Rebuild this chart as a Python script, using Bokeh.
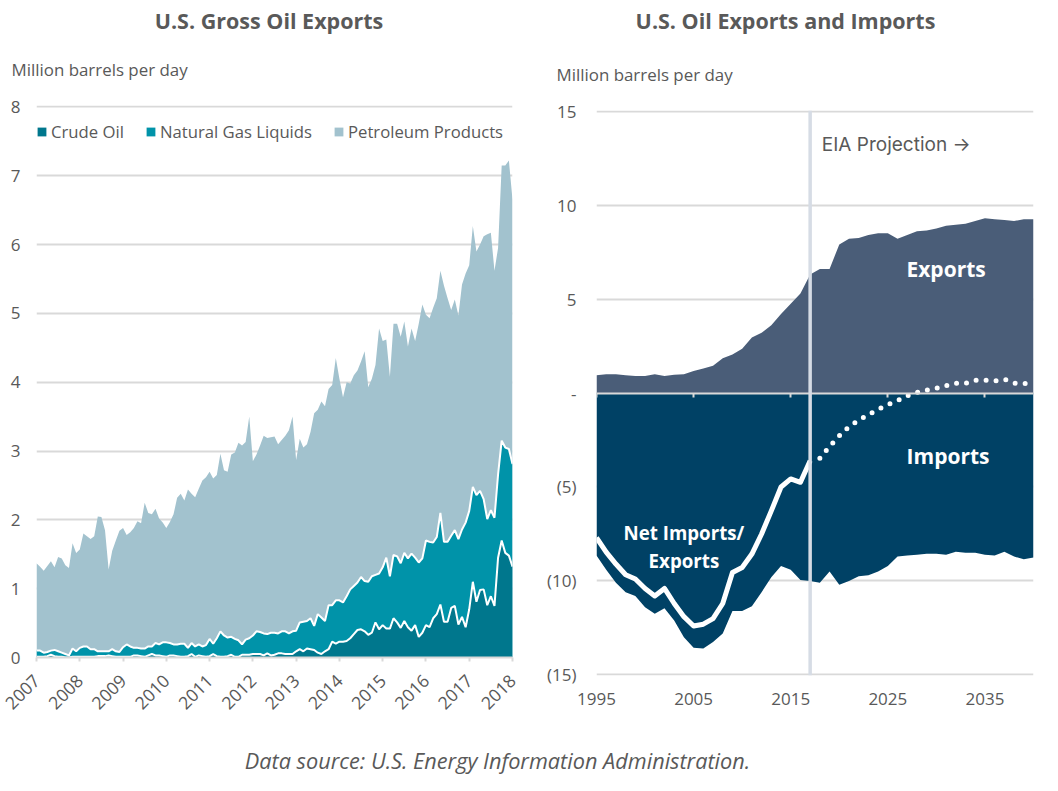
from math import pi
from bokeh.embed import file_html
from bokeh.resources import INLINE
from bokeh.plotting import figure
from bokeh.layouts import column, row
from bokeh.models import ColumnDataSource, FixedTicker, Label, Legend, LegendItem, LinearAxis, Span
from bokeh.core.validation import silence
from bokeh.core.validation.warnings import MISSING_RENDERERS
silence(MISSING_RENDERERS, True)

# ---- left chart: monthly cumulative levels, Jan 2007 .. Jan 2018
start_year = 2007
total_top = [
 1.37,1.32,1.26,1.33,1.40,1.31,1.46,1.44,1.34,1.30,1.66,1.52,
 1.57,1.80,1.76,1.72,1.76,2.05,2.04,1.85,1.28,1.55,1.70,1.84,
 1.88,1.78,1.82,1.88,1.98,1.95,2.25,2.10,2.08,2.16,2.02,1.96,
 1.88,1.97,2.08,2.32,2.38,2.28,2.44,2.38,2.33,2.45,2.57,2.62,
 2.70,2.60,2.65,2.96,2.72,2.70,2.95,2.98,3.12,3.08,3.13,3.50,
 2.85,2.95,3.08,3.22,3.19,3.20,3.21,3.10,3.16,3.22,3.30,3.50,
 2.87,3.18,3.05,3.10,3.28,3.55,3.60,3.72,3.65,3.90,3.96,4.35,
 4.05,3.78,4.00,3.98,4.10,4.17,4.30,4.45,3.93,4.05,4.25,4.78,
 4.60,4.62,4.08,4.85,4.85,4.66,4.88,4.52,4.78,4.60,4.85,5.13,
 4.98,4.93,5.08,5.22,5.62,5.40,5.22,5.05,5.20,4.97,5.42,5.58,
 5.70,6.27,5.90,6.00,6.12,6.15,6.17,5.62,5.95,7.15,7.15,7.22,
 6.65]
ngl_top = [
 .10,.10,.07,.08,.10,.11,.09,.07,.05,.03,.13,.09,
 .14,.16,.16,.12,.12,.09,.09,.09,.09,.12,.09,.08,
 .15,.19,.16,.14,.14,.13,.13,.16,.16,.21,.19,.22,
 .22,.21,.19,.19,.20,.20,.14,.21,.16,.19,.16,.18,
 .27,.20,.28,.38,.32,.29,.30,.27,.25,.19,.26,.28,
 .32,.38,.37,.35,.34,.36,.36,.35,.38,.38,.35,.38,
 .39,.51,.52,.53,.57,.46,.63,.58,.53,.76,.76,.83,
 .83,.80,.89,.99,1.04,1.09,1.17,1.11,1.10,1.18,1.20,1.22,
 1.31,1.45,1.18,1.49,1.47,1.37,1.52,1.44,1.51,1.45,1.38,1.44,
 1.70,1.68,1.67,1.75,2.10,1.68,1.68,1.77,1.85,1.72,1.86,1.96,
 2.13,2.48,2.36,2.42,2.30,2.01,2.14,2.03,2.66,3.15,3.05,3.03,
 2.81]
crude_top = [
 .01,.01,.01,.02,.04,.02,.01,.01,.00,.00,.01,.01,
 .01,.01,.01,.01,.01,.02,.02,.02,.03,.02,.01,.01,
 .01,.01,.01,.03,.03,.02,.01,.03,.05,.03,.03,.02,
 .01,.03,.03,.02,.01,.01,.02,.05,.01,.03,.02,.01,
 .02,.05,.02,.01,.01,.02,.04,.01,.01,.04,.04,.04,
 .05,.05,.05,.03,.06,.03,.04,.06,.06,.05,.05,.05,
 .09,.12,.09,.13,.12,.11,.07,.05,.09,.12,.23,.20,
 .23,.23,.24,.28,.34,.40,.41,.38,.33,.36,.51,.41,
 .47,.42,.42,.57,.51,.43,.53,.44,.39,.47,.30,.36,
 .47,.44,.57,.63,.77,.52,.52,.72,.75,.48,.59,.44,
 .70,1.10,.81,.98,.99,.76,.89,.75,1.45,1.70,1.52,1.48,
 1.32]
assert len(total_top) == len(ngl_top) == len(crude_top) == 133
months = [start_year + i / 12 for i in range(len(total_top))]
zeros_left = [0] * len(months)
left_year_ticks = list(range(2007, 2019))
left_value_ticks = list(range(0, 9))

# ---- right chart: annual, 1995 .. 2040
years = list(range(1995, 2041))
exports = [.95,1.0,1.0,.95,.9,.9,1.0,.9,.97,1.0,1.17,1.3,1.45,1.85,2.05,2.35,2.95,3.2,3.6,4.2,4.75,5.3,6.3,
           6.6,6.6,7.9,8.2,8.25,8.4,8.5,8.5,8.2,8.4,8.6,8.65,8.75,8.9,8.95,9.0,9.15,9.3,9.25,9.2,9.15,9.25,9.25]
imports = [-8.65,-9.4,-10.1,-10.6,-10.8,-11.4,-11.75,-11.45,-12.1,-13.0,-13.55,-13.6,-13.25,-12.8,-11.6,-11.6,-11.35,-10.6,-9.8,-9.2,-9.4,-9.95,-10.0,
           -10.1,-9.5,-10.2,-10.0,-9.75,-9.7,-9.5,-9.2,-8.7,-8.65,-8.6,-8.55,-8.55,-8.6,-8.45,-8.5,-8.5,-8.6,-8.65,-8.45,-8.7,-8.85,-8.75]
net_hist_years = list(range(1995, 2018))
net_hist = [-7.7,-8.47,-9.1,-9.67,-9.9,-10.4,-10.8,-10.4,-11.2,-11.9,-12.4,-12.3,-12.0,-11.2,-9.55,-9.28,-8.57,-7.5,-6.27,-5.0,-4.57,-4.75,-3.6]
net_proj_years = list(range(2018, 2041))
net_proj = [-3.47,-2.85,-2.28,-1.8,-1.45,-1.15,-.87,-.62,-.4,-.15,.03,.16,.25,.39,.52,.52,.68,.68,.64,.73,.52,.52,.45]
zeros_right = [0] * len(years)
projection_start = 2017
right_year_ticks = [1995, 2005, 2015, 2025, 2035]
right_value_ticks = [-15, -10, -5, 0, 5, 10, 15]
right_value_labels = {-15: "(15)", -10: "(10)", -5: "(5)", 0: "-", 5: "5", 10: "10", 15: "15"}

FONT = "Open Sans"
GRAY = "#595959"
GRID = "#d9d9d9"
C_TOTAL, C_NGL, C_CRUDE = "#a2c2ce", "#0093a9", "#00778d"
C_EXP, C_IMP = "#4a5d78", "#004165"

def base_style(p):
    p.outline_line_color = None
    p.background_fill_color = "white"
    p.border_fill_color = "white"
    p.xgrid.visible = False
    p.ygrid.grid_line_color = GRID
    p.ygrid.grid_line_width = 2
    for ax in p.axis:
        ax.major_label_text_font = FONT
        ax.major_label_text_font_size = "17px"
        ax.major_label_text_color = GRAY
        ax.minor_tick_line_color = None

def add_text(p, text, x, y, size, color=GRAY, bold=False, italic=False, align="center", font=FONT):
    style = "bold" if bold else ("italic" if italic else "normal")
    p.add_layout(Label(x=x, y=y, text=text, text_font=font, text_font_size=size, text_color=color,
                       text_font_style=style, text_align=align, text_baseline="middle"))

def text_band(width, height):
    p = figure(width=width, height=height, x_range=(0, width), y_range=(height, 0),
               output_backend="svg", toolbar_location=None,
               min_border_left=0, min_border_right=0, min_border_top=0, min_border_bottom=0)
    p.axis.visible = False
    p.grid.visible = False
    p.outline_line_color = None
    return p

# ---- header
p0 = text_band(1050, 90)
add_text(p0, "U.S. Gross Oil Exports", 268.5, 19.5, "21.5px", bold=True)
add_text(p0, "U.S. Oil Exports and Imports", 785, 19.5, "21.5px", bold=True)
add_text(p0, "Million barrels per day", 11, 69, "16.9px", align="left")
add_text(p0, "Million barrels per day", 556, 74, "16.9px", align="left")

# ---- left
p1 = figure(width=538, height=640, x_range=(2007, 2018), y_range=(0, 8.02),
            output_backend="svg", toolbar_location=None,
            min_border_left=36, min_border_right=26, min_border_top=15, min_border_bottom=73)
base_style(p1)
p1.ygrid.ticker = FixedTicker(ticks=left_value_ticks)
p1.yaxis.ticker = FixedTicker(ticks=left_value_ticks)
p1.yaxis.axis_line_color = None
p1.yaxis.major_tick_line_color = None
p1.yaxis.major_label_standoff = 10
p1.xaxis.ticker = FixedTicker(ticks=left_year_ticks)
p1.xaxis.major_label_orientation = pi / 4
p1.xaxis.major_label_text_font_size = "17.5px"
p1.xaxis.axis_line_color = GRID
p1.xaxis.axis_line_width = 2
p1.xaxis.major_tick_line_color = GRID
p1.xaxis.major_tick_line_width = 2
p1.xaxis.major_tick_in = 0
p1.xaxis.major_tick_out = 4
p1.xaxis.major_label_standoff = 16

src1 = ColumnDataSource(dict(x=months, z=zeros_left, crude=crude_top, ngl=ngl_top, total=total_top))
r_total = p1.varea("x", "z", "total", source=src1, fill_color=C_TOTAL)
r_ngl = p1.varea("x", "z", "ngl", source=src1, fill_color=C_NGL)
r_crude = p1.varea("x", "z", "crude", source=src1, fill_color=C_CRUDE)
p1.line("x", "ngl", source=src1, line_color="white", line_width=2)
p1.line("x", "crude", source=src1, line_color="white", line_width=2)

legend = Legend(items=[LegendItem(label="Crude Oil", renderers=[r_crude]),
                       LegendItem(label="Natural Gas Liquids", renderers=[r_ngl]),
                       LegendItem(label="Petroleum Products", renderers=[r_total])],
                orientation="horizontal", location=(0, 514),
                background_fill_alpha=0, border_line_color=None,
                label_text_font=FONT, label_text_font_size="16.7px", label_text_color=GRAY,
                glyph_width=11, glyph_height=11, label_standoff=4, spacing=21,
                padding=0, margin=0)
p1.add_layout(legend, "center")

# ---- right
p2 = figure(width=512, height=640, x_range=(1995, 2040), y_range=(-15.03, 15.03),
            output_backend="svg", toolbar_location=None,
            min_border_left=58, min_border_right=17, min_border_top=20, min_border_bottom=55)
base_style(p2)
p2.ygrid.ticker = FixedTicker(ticks=right_value_ticks)
p2.yaxis.ticker = FixedTicker(ticks=right_value_ticks)
p2.yaxis.major_label_overrides = right_value_labels
p2.yaxis.axis_line_color = None
p2.yaxis.major_tick_line_color = None
p2.yaxis.major_label_standoff = 14
p2.xaxis.ticker = FixedTicker(ticks=right_year_ticks)
p2.xaxis.axis_line_color = None
p2.xaxis.major_tick_line_color = None
p2.xaxis.major_label_standoff = 11

src2 = ColumnDataSource(dict(x=years, z=zeros_right, exports=exports, imports=imports))
p2.varea("x", "z", "exports", source=src2, fill_color=C_EXP)
p2.varea("x", "z", "imports", source=src2, fill_color=C_IMP)

zero_axis = LinearAxis(fixed_location=0, ticker=FixedTicker(ticks=right_year_ticks),
                       major_label_overrides={t: "" for t in right_year_ticks},
                       axis_line_color=GRID, axis_line_width=2,
                       major_tick_line_color=GRID, major_tick_line_width=2,
                       major_tick_in=0, major_tick_out=4, minor_tick_line_color=None)
p2.add_layout(zero_axis, "below")

p2.line(net_hist_years, net_hist, line_color="white", line_width=5, line_join="round")
p2.line(net_proj_years, net_proj, line_color="white", line_width=5, line_cap="round",
        line_dash=[0, 10])
p2.add_layout(Span(location=projection_start, dimension="height", line_color="#d6dce5", line_width=3.5))

add_text(p2, "EIA Projection \u2192", 2018.2, 13.2, "19px", align="left", font="Inter")
add_text(p2, "Exports", 2031.0, 6.6, "21px", color="white", bold=True)
add_text(p2, "Imports", 2031.2, -3.35, "21px", color="white", bold=True)
add_text(p2, "Net Imports/", 2004.0, -7.4, "18.7px", color="white", bold=True)
add_text(p2, "Exports", 2004.0, -8.9, "18.7px", color="white", bold=True)

# ---- footer
p3 = text_band(1050, 50)
add_text(p3, "Data source: U.S. Energy Information Administration.", 497, 30, "21.7px", italic=True)

layout = column(p0, row(column(p1), column(p2), spacing=0), p3, spacing=0)
open("out.html", "w").write(file_html(layout, INLINE))
